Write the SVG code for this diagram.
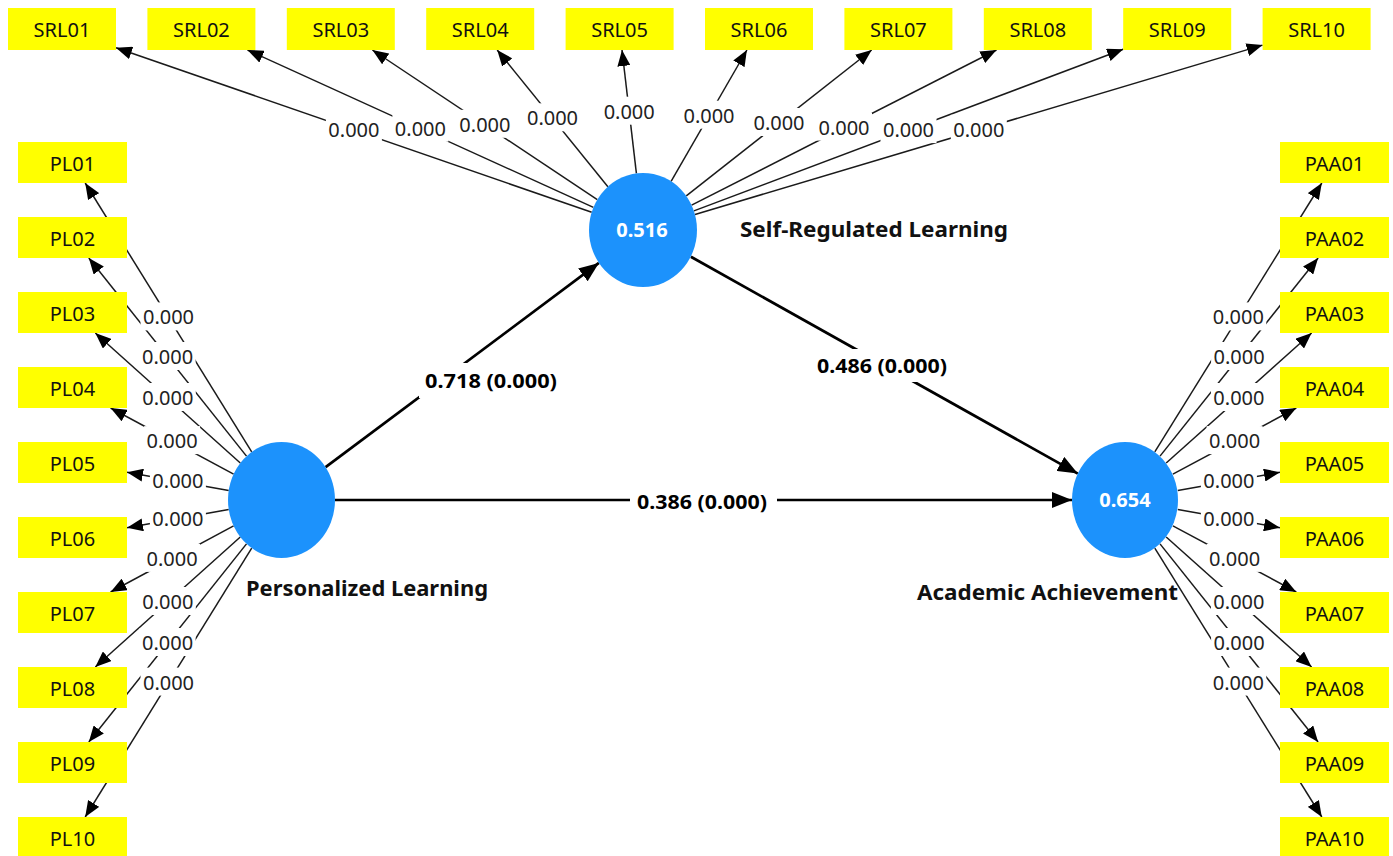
<svg xmlns="http://www.w3.org/2000/svg" width="1393" height="856" viewBox="0 0 1393 856">
<style>
.bg{fill:#fff}
.ld{stroke:#1a1a1a;stroke-width:1.5;fill:none;marker-end:url(#ah)}
.ls{stroke:#000;stroke-width:2.7;fill:none;marker-end:url(#ahb)}
.box{fill:#ffff00}
.bt{font-family:"Noto Sans","Open Sans",sans-serif;font-size:20px;fill:#111;text-anchor:middle}
.lt{font-family:"Noto Sans","Open Sans",sans-serif;font-size:20px;fill:#222;text-anchor:middle}
.pt{font-family:"Noto Sans","Open Sans",sans-serif;font-size:20px;font-weight:bold;fill:#000;text-anchor:middle}
.nt{font-family:"Noto Sans","Open Sans",sans-serif;font-size:21px;font-weight:bold;fill:#111}
.ct{font-family:"Noto Sans","Open Sans",sans-serif;font-size:20px;font-weight:bold;fill:#fff;text-anchor:middle}
.cir{fill:#1c92fc}
</style>
<defs>
<marker id="ah" viewBox="0 0 16 13" refX="16" refY="6.5" markerWidth="16" markerHeight="13" markerUnits="userSpaceOnUse" orient="auto"><path d="M0,0 L16,6.5 L0,13 z" fill="#000"/></marker>
<marker id="ahb" viewBox="0 0 20 16" refX="20" refY="8" markerWidth="20" markerHeight="16" markerUnits="userSpaceOnUse" orient="auto"><path d="M0,0 L20,8 L0,16 z" fill="#000"/></marker>
</defs>
<rect width="1393" height="856" fill="#fff"/>
<g id="connectors">
<line class="ld" x1="591.7" y1="212.3" x2="116" y2="47.7"/>
<line class="ld" x1="593.4" y1="207.4" x2="247.5" y2="50"/>
<line class="ld" x1="597.3" y1="199.6" x2="372.4" y2="50"/>
<line class="ld" x1="607.9" y1="186.7" x2="497.2" y2="50"/>
<line class="ld" x1="636.4" y1="173.4" x2="622" y2="50"/>
<line class="ld" x1="671.1" y1="181.3" x2="746.9" y2="50"/>
<line class="ld" x1="686.3" y1="195.9" x2="871.7" y2="50"/>
<line class="ld" x1="691.6" y1="205.2" x2="996.5" y2="50"/>
<line class="ld" x1="693.9" y1="210.9" x2="1123.2" y2="49.3"/>
<line class="ld" x1="695" y1="214.5" x2="1262.6" y2="45.1"/>
<line class="ld" x1="251.7" y1="451.8" x2="85.2" y2="183"/>
<line class="ld" x1="246.5" y1="456.1" x2="88.8" y2="258"/>
<line class="ld" x1="240.3" y1="463" x2="95.3" y2="333"/>
<line class="ld" x1="233.6" y1="474.2" x2="110.6" y2="408"/>
<line class="ld" x1="228.7" y1="490.5" x2="127" y2="472.3"/>
<line class="ld" x1="228.7" y1="509.5" x2="127" y2="527.7"/>
<line class="ld" x1="233.6" y1="525.8" x2="110.6" y2="592"/>
<line class="ld" x1="240.3" y1="537" x2="95.3" y2="667"/>
<line class="ld" x1="246.5" y1="543.9" x2="88.8" y2="742"/>
<line class="ld" x1="251.7" y1="548.2" x2="85.2" y2="817"/>
<line class="ld" x1="1154.8" y1="451.8" x2="1321.8" y2="183"/>
<line class="ld" x1="1160" y1="456.1" x2="1318.1" y2="258"/>
<line class="ld" x1="1166.2" y1="463" x2="1311.6" y2="333"/>
<line class="ld" x1="1172.9" y1="474.2" x2="1296.3" y2="408"/>
<line class="ld" x1="1177.8" y1="490.5" x2="1280" y2="472.3"/>
<line class="ld" x1="1177.8" y1="509.5" x2="1280" y2="527.7"/>
<line class="ld" x1="1172.9" y1="525.8" x2="1296.3" y2="592"/>
<line class="ld" x1="1166.2" y1="537" x2="1311.6" y2="667"/>
<line class="ld" x1="1160" y1="543.9" x2="1318.1" y2="742"/>
<line class="ld" x1="1154.8" y1="548.2" x2="1321.8" y2="817"/>
<line class="ls" x1="325.6" y1="467.1" x2="598.9" y2="262.9"/>
<line class="ls" x1="690.9" y1="256.8" x2="1077.8" y2="473.6"/>
<line class="ls" x1="335" y1="500" x2="1072" y2="500"/>
</g>
<g id="connector-labels">
<g class="bg">
<rect x="325.9" y="115" width="56" height="28"/>
<rect x="392.4" y="113.7" width="56" height="28"/>
<rect x="456.9" y="109.8" width="56" height="28"/>
<rect x="524.5" y="103.3" width="56" height="28"/>
<rect x="601.2" y="96.7" width="56" height="28"/>
<rect x="681" y="100.7" width="56" height="28"/>
<rect x="751" y="108" width="56" height="28"/>
<rect x="816" y="112.6" width="56" height="28"/>
<rect x="880.5" y="115.1" width="56" height="28"/>
<rect x="950.8" y="114.8" width="56" height="28"/>
<rect x="140.5" y="302.4" width="56" height="28"/>
<rect x="139.6" y="342" width="56" height="28"/>
<rect x="139.8" y="383" width="56" height="28"/>
<rect x="144.1" y="426.1" width="56" height="28"/>
<rect x="149.9" y="466.4" width="56" height="28"/>
<rect x="149.9" y="503.6" width="56" height="28"/>
<rect x="144.1" y="543.9" width="56" height="28"/>
<rect x="139.8" y="587" width="56" height="28"/>
<rect x="139.6" y="628" width="56" height="28"/>
<rect x="140.5" y="667.6" width="56" height="28"/>
<rect x="1210.3" y="302.4" width="56" height="28"/>
<rect x="1211.1" y="342" width="56" height="28"/>
<rect x="1210.9" y="383" width="56" height="28"/>
<rect x="1206.6" y="426.1" width="56" height="28"/>
<rect x="1200.9" y="466.4" width="56" height="28"/>
<rect x="1200.9" y="503.6" width="56" height="28"/>
<rect x="1206.6" y="543.9" width="56" height="28"/>
<rect x="1210.9" y="587" width="56" height="28"/>
<rect x="1211.1" y="628" width="56" height="28"/>
<rect x="1210.3" y="667.6" width="56" height="28"/>
<rect x="419" y="363" width="144" height="35"/>
<rect x="811" y="349" width="142" height="33"/>
<rect x="630" y="484" width="147" height="34"/>
</g>
<text class="lt" x="353.9" y="137">0.000</text>
<text class="lt" x="420.4" y="135.7">0.000</text>
<text class="lt" x="484.9" y="131.8">0.000</text>
<text class="lt" x="552.5" y="125.3">0.000</text>
<text class="lt" x="629.2" y="118.7">0.000</text>
<text class="lt" x="709" y="122.7">0.000</text>
<text class="lt" x="779" y="130">0.000</text>
<text class="lt" x="844" y="134.6">0.000</text>
<text class="lt" x="908.5" y="137.1">0.000</text>
<text class="lt" x="978.8" y="136.8">0.000</text>
<text class="lt" x="168.5" y="324.4">0.000</text>
<text class="lt" x="167.6" y="364">0.000</text>
<text class="lt" x="167.8" y="405">0.000</text>
<text class="lt" x="172.1" y="448.1">0.000</text>
<text class="lt" x="177.9" y="488.4">0.000</text>
<text class="lt" x="177.9" y="525.6">0.000</text>
<text class="lt" x="172.1" y="565.9">0.000</text>
<text class="lt" x="167.8" y="609">0.000</text>
<text class="lt" x="167.6" y="650">0.000</text>
<text class="lt" x="168.5" y="689.6">0.000</text>
<text class="lt" x="1238.3" y="324.4">0.000</text>
<text class="lt" x="1239.1" y="364">0.000</text>
<text class="lt" x="1238.9" y="405">0.000</text>
<text class="lt" x="1234.6" y="448.1">0.000</text>
<text class="lt" x="1228.9" y="488.4">0.000</text>
<text class="lt" x="1228.9" y="525.6">0.000</text>
<text class="lt" x="1234.6" y="565.9">0.000</text>
<text class="lt" x="1238.9" y="609">0.000</text>
<text class="lt" x="1239.1" y="650">0.000</text>
<text class="lt" x="1238.3" y="689.6">0.000</text>
<text class="pt" x="491" y="388" textLength="132" lengthAdjust="spacingAndGlyphs">0.718 (0.000)</text>
<text class="pt" x="882" y="373" textLength="130" lengthAdjust="spacingAndGlyphs">0.486 (0.000)</text>
<text class="pt" x="702" y="509" textLength="130" lengthAdjust="spacingAndGlyphs">0.386 (0.000)</text>
</g>
<g id="node-SRL">
<ellipse class="cir" cx="643" cy="230" rx="54" ry="57"/>
<text class="ct" x="642" y="237">0.516</text>
<text class="nt" x="740" y="237" textLength="268" lengthAdjust="spacingAndGlyphs">Self-Regulated Learning</text>
</g>
<g id="node-PL">
<ellipse class="cir" cx="281.5" cy="500" rx="53.5" ry="58"/>
<text class="nt" x="246" y="596" textLength="242" lengthAdjust="spacingAndGlyphs">Personalized Learning</text>
</g>
<g id="node-AA">
<ellipse class="cir" cx="1125" cy="500" rx="53" ry="58"/>
<text class="ct" x="1125" y="507">0.654</text>
<text class="nt" x="917" y="600" textLength="261" lengthAdjust="spacingAndGlyphs">Academic Achievement</text>
</g>
<g id="node-SRL01"><rect class="box" x="8" y="8" width="108" height="42"/><text class="bt" x="62" y="37">SRL01</text></g>
<g id="node-SRL02"><rect class="box" x="147.4" y="8" width="108" height="42"/><text class="bt" x="201.4" y="37">SRL02</text></g>
<g id="node-SRL03"><rect class="box" x="286.8" y="8" width="108" height="42"/><text class="bt" x="340.8" y="37">SRL03</text></g>
<g id="node-SRL04"><rect class="box" x="426.2" y="8" width="108" height="42"/><text class="bt" x="480.2" y="37">SRL04</text></g>
<g id="node-SRL05"><rect class="box" x="565.6" y="8" width="108" height="42"/><text class="bt" x="619.6" y="37">SRL05</text></g>
<g id="node-SRL06"><rect class="box" x="705" y="8" width="108" height="42"/><text class="bt" x="759" y="37">SRL06</text></g>
<g id="node-SRL07"><rect class="box" x="844.4" y="8" width="108" height="42"/><text class="bt" x="898.4" y="37">SRL07</text></g>
<g id="node-SRL08"><rect class="box" x="983.8" y="8" width="108" height="42"/><text class="bt" x="1037.8" y="37">SRL08</text></g>
<g id="node-SRL09"><rect class="box" x="1123.2" y="8" width="108" height="42"/><text class="bt" x="1177.2" y="37">SRL09</text></g>
<g id="node-SRL10"><rect class="box" x="1262.6" y="8" width="108" height="42"/><text class="bt" x="1316.6" y="37">SRL10</text></g>
<g id="node-PL01"><rect class="box" x="18" y="142" width="109" height="41"/><text class="bt" x="72.5" y="170.5">PL01</text></g>
<g id="node-PL02"><rect class="box" x="18" y="217" width="109" height="41"/><text class="bt" x="72.5" y="245.5">PL02</text></g>
<g id="node-PL03"><rect class="box" x="18" y="292" width="109" height="41"/><text class="bt" x="72.5" y="320.5">PL03</text></g>
<g id="node-PL04"><rect class="box" x="18" y="367" width="109" height="41"/><text class="bt" x="72.5" y="395.5">PL04</text></g>
<g id="node-PL05"><rect class="box" x="18" y="442" width="109" height="41"/><text class="bt" x="72.5" y="470.5">PL05</text></g>
<g id="node-PL06"><rect class="box" x="18" y="517" width="109" height="41"/><text class="bt" x="72.5" y="545.5">PL06</text></g>
<g id="node-PL07"><rect class="box" x="18" y="592" width="109" height="41"/><text class="bt" x="72.5" y="620.5">PL07</text></g>
<g id="node-PL08"><rect class="box" x="18" y="667" width="109" height="41"/><text class="bt" x="72.5" y="695.5">PL08</text></g>
<g id="node-PL09"><rect class="box" x="18" y="742" width="109" height="41"/><text class="bt" x="72.5" y="770.5">PL09</text></g>
<g id="node-PL10"><rect class="box" x="18" y="817" width="109" height="41"/><text class="bt" x="72.5" y="845.5">PL10</text></g>
<g id="node-PAA01"><rect class="box" x="1280" y="142" width="109" height="41"/><text class="bt" x="1334.5" y="170.5">PAA01</text></g>
<g id="node-PAA02"><rect class="box" x="1280" y="217" width="109" height="41"/><text class="bt" x="1334.5" y="245.5">PAA02</text></g>
<g id="node-PAA03"><rect class="box" x="1280" y="292" width="109" height="41"/><text class="bt" x="1334.5" y="320.5">PAA03</text></g>
<g id="node-PAA04"><rect class="box" x="1280" y="367" width="109" height="41"/><text class="bt" x="1334.5" y="395.5">PAA04</text></g>
<g id="node-PAA05"><rect class="box" x="1280" y="442" width="109" height="41"/><text class="bt" x="1334.5" y="470.5">PAA05</text></g>
<g id="node-PAA06"><rect class="box" x="1280" y="517" width="109" height="41"/><text class="bt" x="1334.5" y="545.5">PAA06</text></g>
<g id="node-PAA07"><rect class="box" x="1280" y="592" width="109" height="41"/><text class="bt" x="1334.5" y="620.5">PAA07</text></g>
<g id="node-PAA08"><rect class="box" x="1280" y="667" width="109" height="41"/><text class="bt" x="1334.5" y="695.5">PAA08</text></g>
<g id="node-PAA09"><rect class="box" x="1280" y="742" width="109" height="41"/><text class="bt" x="1334.5" y="770.5">PAA09</text></g>
<g id="node-PAA10"><rect class="box" x="1280" y="817" width="109" height="41"/><text class="bt" x="1334.5" y="845.5">PAA10</text></g>
</svg>
